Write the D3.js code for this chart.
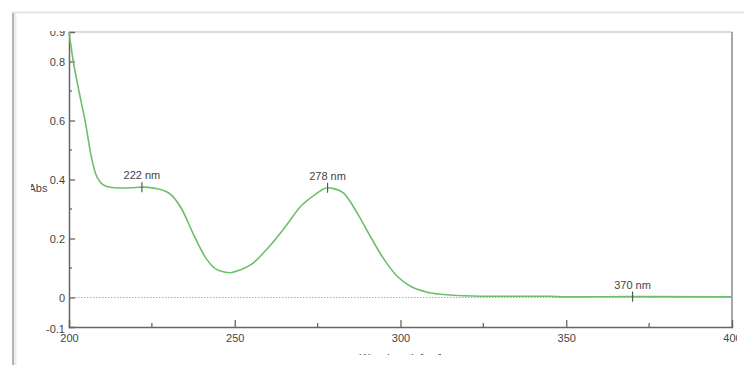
<!DOCTYPE html>
<meta charset="utf-8">
<html>
<script src="https://d3js.org/d3.v7.min.js"></script>
<style>
  body { margin: 0; background: #fff; }
  text { font-family: "Liberation Sans", Arial, sans-serif; }
</style>
<div id="spec"></div>
<script>

// spectrum
var wavelength = [200, 201.3, 203, 205, 206.5, 208, 209.5, 211, 213, 216, 219, 222, 226, 230, 234, 237.5, 241.5, 245,
                  248.5, 252, 255, 260, 265, 270, 275, 276.5, 278, 279.5, 283, 287, 291, 295, 299, 303, 308, 313,
                  319, 330, 345, 350, 370, 400];
var absorb = [0.90, 0.80, 0.70, 0.59, 0.49, 0.42, 0.39, 0.378, 0.373, 0.371, 0.372, 0.374, 0.37, 0.355, 0.30, 0.215, 0.13, 0.092,
              0.084, 0.095, 0.112, 0.168, 0.236, 0.31, 0.355, 0.366, 0.372, 0.37, 0.352, 0.285, 0.205, 0.13, 0.072, 0.038, 0.018, 0.01,
              0.006, 0.004, 0.004, 0.002, 0.003, 0.002];

// peak picks
var peakNm = [222, 278, 370];
var peakAbs = [0.374, 0.372, 0.003];
var peakLabels = ["222 nm", "278 nm", "370 nm"];

var xTicks = [200, 250, 300, 350, 400];
var xMinor = [225, 275, 325, 375];
var yTicks = [-0.1, 0, 0.2, 0.4, 0.6, 0.8, 0.9];
var yMinor = [0.1, 0.3, 0.5, 0.7];

var width = 744,
    height = 365;

// plot box ("top" is taken on window, so other names)
var pLeft = 69, pRight = 732, pTop = 32, pBottom = 327;

var svg = d3.select("#spec")
  .append("svg")
    .attr("width", width)
    .attr("height", height);

var x = d3.scaleLinear().domain([200, 400]).range([pLeft, pRight]);
var y = d3.scaleLinear().domain([-0.1, 0.9]).range([pBottom, pTop]);

// clip boxes are in global coords, so the axis groups get wrapped
var defs = svg.append("defs");
defs.append("clipPath").attr("id", "clipY")
  .append("rect").attr("x", 0).attr("y", 31).attr("width", width).attr("height", height);
defs.append("clipPath").attr("id", "clipX")
  .append("rect").attr("x", 0).attr("y", 0).attr("width", 737).attr("height", height);
defs.append("clipPath").attr("id", "clipT")
  .append("rect").attr("x", 0).attr("y", 0).attr("width", width).attr("height", 355);
defs.append("clipPath").attr("id", "clipL")
  .append("rect").attr("x", 31).attr("y", 0).attr("width", width).attr("height", height);

// window frame
svg.append("line")
  .attr("x1", 12).attr("x2", width).attr("y1", 12.5).attr("y2", 12.5)
  .attr("stroke", "#e6e6e6").attr("stroke-width", 2);
svg.append("line")
  .attr("x1", 15).attr("x2", 15).attr("y1", 13).attr("y2", height)
  .attr("stroke", "#ececec").attr("stroke-width", 3);
svg.append("line")
  .attr("x1", 13).attr("x2", 13).attr("y1", 13).attr("y2", height)
  .attr("stroke", "#b4b4b4").attr("stroke-width", 2);

// plot frame: top and right
svg.append("line")
  .attr("x1", pLeft).attr("x2", pRight).attr("y1", pTop).attr("y2", pTop)
  .attr("stroke", "#cfcfcf").attr("stroke-width", 1.5);
svg.append("line")
  .attr("x1", pRight).attr("x2", pRight).attr("y1", pTop).attr("y2", pBottom)
  .attr("stroke", "#8a8a8a").attr("stroke-width", 1.5);

// zero line (dotted)
svg.append("line")
  .attr("x1", pLeft).attr("x2", pRight).attr("y1", y(0)).attr("y2", y(0))
  .attr("stroke", "#aaa").attr("stroke-width", 1)
  .attr("stroke-dasharray", "1.5,1.5");

// x axis
var gx = svg.append("g")
  .attr("clip-path", "url(#clipX)")
  .append("g")
  .attr("transform", "translate(0," + pBottom + ")")
  .call(d3.axisBottom(x).tickValues(xTicks).tickSize(-7).tickPadding(6).tickFormat(d3.format("d")));
gx.append("g").selectAll("line").data(xMinor).enter().append("line")
  .attr("x1", function(d) { return x(d); }).attr("x2", function(d) { return x(d); })
  .attr("y1", 0).attr("y2", -4)
  .attr("stroke", "#666").attr("stroke-width", 1.3);

// y axis
var gy = svg.append("g")
  .attr("clip-path", "url(#clipY)")
  .append("g")
  .attr("transform", "translate(" + pLeft + ",0)")
  .call(d3.axisLeft(y).tickValues(yTicks).tickSize(-6).tickPadding(4)
        .tickFormat(function(d) { return String(d); }));
gy.append("g").selectAll("line").data(yMinor).enter().append("line")
  .attr("y1", function(d) { return y(d); }).attr("y2", function(d) { return y(d); })
  .attr("x1", 0).attr("x2", 3)
  .attr("stroke", "#666").attr("stroke-width", 1.3);

[gx, gy].forEach(function(g) {
  g.select(".domain").attr("stroke", "#666").attr("stroke-width", 1.5);
  g.selectAll(".tick line").attr("stroke", "#666").attr("stroke-width", 1.3);
  g.selectAll(".tick text")
    .attr("fill", "#444")
    .style("font-size", "11px")
    .style("font-family", "'Liberation Sans', Arial, sans-serif");
});
// no tick line at the corners
gy.selectAll(".tick").filter(function(d) { return d === -0.1 || d === 0.9; }).select("line").remove();
gx.selectAll(".tick").filter(function(d) { return d === 200 || d === 400; }).select("line").remove();
gy.selectAll(".tick").filter(function(d) { return d === -0.1; }).select("text").attr("dy", "0.5em");
gx.selectAll(".tick text").attr("dy", "0.85em");

// axis titles
svg.append("text")
  .attr("x", 38).attr("y", y(0.37) + 4)
  .attr("text-anchor", "middle")
  .attr("clip-path", "url(#clipL)")
  .style("font-size", "11px").attr("fill", "#444")
  .text("Abs");

svg.append("text")
  .attr("x", x(300)).attr("y", 362)
  .attr("text-anchor", "middle")
  .attr("clip-path", "url(#clipT)")
  .style("font-size", "11px").attr("fill", "#444")
  .text("Wavelength [nm]");

// spectrum
var pts = wavelength.map(function(w, i) { return [w, absorb[i]]; });
svg.append("path")
  .datum(pts)
  .attr("fill", "none")
  .attr("stroke", "#6cbf6c")
  .attr("stroke-width", 1.6)
  .attr("d", d3.line()
    .x(function(d) { return x(d[0]); })
    .y(function(d) { return y(d[1]); })
    .curve(d3.curveMonotoneX));

// peak markers
var pk = svg.selectAll(".peak")
  .data(peakNm)
  .enter().append("g")
  .attr("class", "peak");

pk.append("line")
  .attr("x1", function(d) { return x(d); }).attr("x2", function(d) { return x(d); })
  .attr("y1", function(d, i) { return y(peakAbs[i]) - 5; })
  .attr("y2", function(d, i) { return y(peakAbs[i]) + 5; })
  .attr("stroke", "#555").attr("stroke-width", 1.2);

pk.append("text")
  .attr("x", function(d) { return x(d); })
  .attr("y", function(d, i) { return y(peakAbs[i]) - 8; })
  .attr("text-anchor", "middle")
  .style("font-size", "11px").attr("fill", "#444")
  .text(function(d, i) { return peakLabels[i]; });

</script>
</html>
